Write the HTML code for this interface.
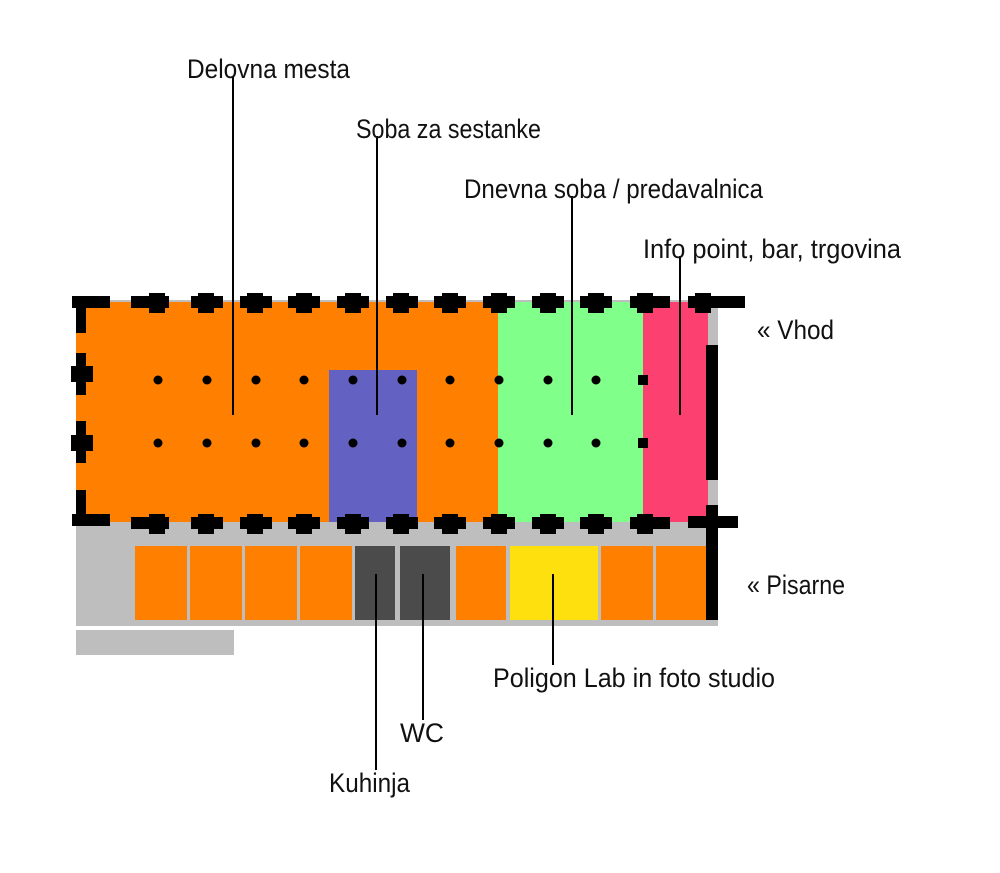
<!DOCTYPE html>
<html><head><style>html,body{margin:0;padding:0;background:#fff;}svg{display:block}text{font-family:"Liberation Sans",sans-serif;font-size:27px;fill:#111;}</style></head>
<body>
<svg width="1000" height="873" viewBox="0 0 1000 873" xmlns="http://www.w3.org/2000/svg">
<rect x="76" y="300" width="642" height="326" fill="#bebebe"/>
<rect x="76" y="302" width="422" height="220" fill="#ff7f00"/>
<rect x="329" y="370" width="88" height="152" fill="#6361c1"/>
<rect x="498" y="302" width="145" height="220" fill="#80ff8a"/>
<rect x="643" y="302" width="65" height="220" fill="#fc406f"/>
<rect x="76" y="630" width="158" height="25" fill="#bebebe"/>
<g fill="#ff7f00">
<rect x="135" y="546" width="52" height="74"/><rect x="190" y="546" width="52" height="74"/>
<rect x="245" y="546" width="52" height="74"/><rect x="300" y="546" width="52" height="74"/>
<rect x="456" y="546" width="50" height="74"/><rect x="601" y="546" width="52" height="74"/>
<rect x="656" y="546" width="50" height="74"/></g>
<rect x="355" y="546" width="40" height="74" fill="#4b4b4b"/>
<rect x="400" y="546" width="50" height="74" fill="#4b4b4b"/>
<rect x="510" y="546" width="88" height="74" fill="#ffe00f"/>
<g fill="#000">
<circle cx="158" cy="380" r="4.5"/><circle cx="207" cy="380" r="4.5"/><circle cx="256" cy="380" r="4.5"/><circle cx="304" cy="380" r="4.5"/><circle cx="353" cy="380" r="4.5"/><circle cx="402" cy="380" r="4.5"/><circle cx="450" cy="380" r="4.5"/><circle cx="499" cy="380" r="4.5"/><circle cx="548" cy="380" r="4.5"/><circle cx="596" cy="380" r="4.5"/>
<circle cx="158" cy="443" r="4.5"/><circle cx="207" cy="443" r="4.5"/><circle cx="256" cy="443" r="4.5"/><circle cx="304" cy="443" r="4.5"/><circle cx="353" cy="443" r="4.5"/><circle cx="402" cy="443" r="4.5"/><circle cx="450" cy="443" r="4.5"/><circle cx="499" cy="443" r="4.5"/><circle cx="548" cy="443" r="4.5"/><circle cx="596" cy="443" r="4.5"/>
<rect x="638" y="375" width="10" height="10"/><rect x="638" y="438" width="10" height="10"/>
<rect x="72" y="296" width="38" height="12"/><rect x="76" y="296" width="10" height="37"/>
<rect x="72" y="514" width="38" height="12"/><rect x="76" y="490" width="10" height="36"/>
<rect x="76" y="353" width="10" height="42"/><rect x="71" y="366" width="22" height="16"/>
<rect x="76" y="421" width="10" height="42"/><rect x="71" y="435" width="22" height="16"/>
<g id="cr">
<rect x="131" y="296" width="38" height="12"/><rect x="149" y="293" width="16" height="20"/>
<rect x="191" y="296" width="32" height="12"/><rect x="198" y="293" width="16" height="20"/>
<rect x="240" y="296" width="32" height="12"/><rect x="247" y="293" width="16" height="20"/>
<rect x="288" y="296" width="32" height="12"/><rect x="296" y="293" width="16" height="20"/>
<rect x="337" y="296" width="32" height="12"/><rect x="345" y="293" width="16" height="20"/>
<rect x="386" y="296" width="32" height="12"/><rect x="393" y="293" width="16" height="20"/>
<rect x="434" y="296" width="32" height="12"/><rect x="442" y="293" width="16" height="20"/>
<rect x="483" y="296" width="32" height="12"/><rect x="491" y="293" width="16" height="20"/>
<rect x="532" y="296" width="32" height="12"/><rect x="540" y="293" width="16" height="20"/>
<rect x="580" y="296" width="32" height="12"/><rect x="588" y="293" width="16" height="20"/>
<rect x="630" y="296" width="40" height="12"/><rect x="637" y="293" width="16" height="20"/>
</g>
<use href="#cr" y="221"/>
<rect x="688" y="296" width="57" height="12"/><rect x="695" y="293" width="16" height="20"/>
<rect x="688" y="516" width="50" height="12"/><rect x="706" y="505" width="12" height="115"/>
<rect x="706" y="345" width="12" height="135"/>
</g>
<g stroke="#000" stroke-width="2">
<line x1="233" y1="76" x2="233" y2="415"/>
<line x1="377" y1="136" x2="377" y2="415"/>
<line x1="572" y1="196" x2="572" y2="415"/>
<line x1="680" y1="256" x2="680" y2="415"/>
<line x1="553" y1="574" x2="553" y2="665"/>
<line x1="423" y1="574" x2="423" y2="720"/>
<line x1="376" y1="574" x2="376" y2="770"/>
</g>
<text x="187" y="78" textLength="163" lengthAdjust="spacingAndGlyphs">Delovna mesta</text>
<text x="356" y="138" textLength="185" lengthAdjust="spacingAndGlyphs">Soba za sestanke</text>
<text x="464" y="198" textLength="299" lengthAdjust="spacingAndGlyphs">Dnevna soba / predavalnica</text>
<text x="643" y="258" textLength="258" lengthAdjust="spacingAndGlyphs">Info point, bar, trgovina</text>
<text x="757" y="339" textLength="77" lengthAdjust="spacingAndGlyphs">« Vhod</text>
<text x="747" y="594" textLength="98" lengthAdjust="spacingAndGlyphs">« Pisarne</text>
<text x="493" y="687" textLength="282" lengthAdjust="spacingAndGlyphs">Poligon Lab in foto studio</text>
<text x="400" y="742" textLength="44" lengthAdjust="spacingAndGlyphs">WC</text>
<text x="329" y="792" textLength="81" lengthAdjust="spacingAndGlyphs">Kuhinja</text>
</svg>
</body></html>
